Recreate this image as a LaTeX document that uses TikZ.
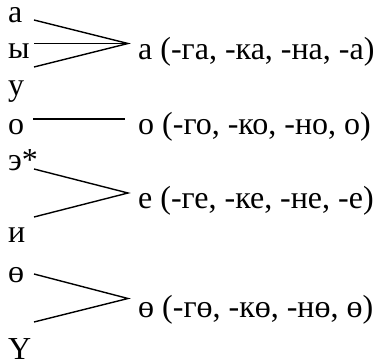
\documentclass[tikz,border=0pt]{standalone}
\usepackage{fontspec}
\setmainfont{Liberation Serif}
\begin{document}
\begin{tikzpicture}[x=1pt,y=-1pt,
  letter/.style={anchor=base west,inner sep=0pt,font=\fontsize{32}{36}\selectfont},
  conn/.style={line width=1.4pt}]
\useasboundingbox (0,0) rectangle (377,363);
% left column
\node[letter] (a)  at (8,22.5)  {а};
\node[letter] (y)  at (8,59)    {ы};
\node[letter] (u)  at (8,96)    {у};
\node[letter] (o)  at (8,134.5) {о};
\node[letter] (e)  at (8,171)   {э*};
\node[letter] (i)  at (8,243)   {и};
\node[letter] (oe) at (8,282)   {ө};
\node[letter] (ue) at (8,359.5) {Ү};
% right labels
\node[letter] (La) at (138,59.5)  {а (-га, -ка, -на, -а)};
\node[letter] (Lo) at (138,134.5) {о (-го, -ко, -но, о)};
\node[letter] (Le) at (138,209)   {е (-ге, -ке, -не, -е)};
\node[letter] (Lq) at (138,317)   {ө (-гө, -кө, -нө, ө)};
% fork points
\coordinate (pa) at (128,43.5);
\coordinate (a1) at (34,20);
\coordinate (a2) at (34,43.5);
\coordinate (a3) at (34,67);
\coordinate (o1) at (33,119);
\coordinate (o2) at (125,119);
\coordinate (pe) at (128,193);
\coordinate (e1) at (34,169);
\coordinate (e3) at (34,217);
\coordinate (pq) at (128,298.5);
\coordinate (q1) at (34,274);
\coordinate (q3) at (34,322);
\draw[conn] (a1) -- (pa) -- (a3);
\draw[conn] (a2) -- (pa);
\draw[conn] (o1) -- (o2);
\draw[conn] (e1) -- (pe) -- (e3);
\draw[conn] (q1) -- (pq) -- (q3);
\end{tikzpicture}
\end{document}
